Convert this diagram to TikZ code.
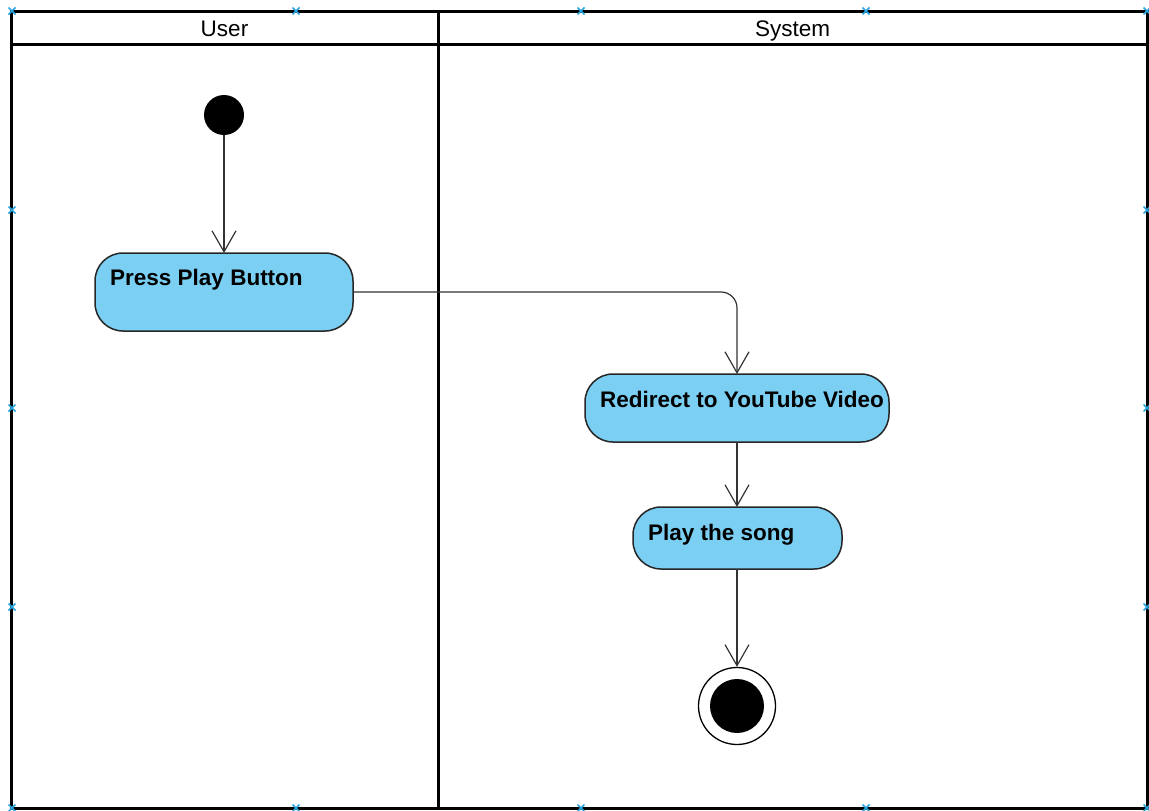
\documentclass[tikz,border=0pt]{standalone}
\usepackage{fontspec}
\setmainfont{Liberation Sans}
\usetikzlibrary{arrows.meta}
\definecolor{actfill}{HTML}{7ACFF3}
\definecolor{handle}{HTML}{2AA5DF}
\tikzset{
  lane/.style={line width=3pt, draw=black},
  action/.style={draw=black!85, line width=1.5pt, fill=actfill, rounded corners=28pt},
  actlabel/.style={anchor=base west, font=\fontsize{22.5}{26}\selectfont\bfseries, inner sep=0pt},
  lanelabel/.style={anchor=base, font=\fontsize{22.5}{26}\selectfont, inner sep=0pt},
  flow/.style={draw=black!80, line width=1.2pt, -{Straight Barb[length=21pt,width=24pt,line width=1.2pt]}},
  handlemark/.style={draw=handle, line width=1.5pt}
}
\begin{document}
\begin{tikzpicture}[x=1pt,y=-1pt]
\useasboundingbox (0,0) rectangle (1149,811);

% swimlane frame
\draw[lane] (11,11) rectangle (1147,808);
\draw[lane] (11,44) -- (1147,44);
\draw[lane] (438,11) -- (438,808);
\node[lanelabel] (userlane) at (224.5,36) {User};
\node[lanelabel] (syslane) at (792.5,36) {System};

% initial node
\node[circle, fill=black, minimum size=40pt, inner sep=0pt] (start) at (224,115) {};

% actions
\path[action] (95,253) rectangle (353,331);
\coordinate (pressTop) at (224,253);
\coordinate (pressRight) at (353,292);
\node[actlabel] (pressText) at (110,285) {Press Play Button};

\path[action] (585,374) rectangle (889,442);
\coordinate (redirTop) at (737,374);
\coordinate (redirBottom) at (737,442);
\node[actlabel] (redirText) at (600,407) {Redirect to YouTube Video};

\path[action] (633,507) rectangle (842,569);
\coordinate (playTop) at (737,507);
\coordinate (playBottom) at (737,569);
\node[actlabel] (playText) at (648,540) {Play the song};

% final node
\node[circle, draw=black, line width=1.3pt, fill=white, minimum size=77pt, inner sep=0pt] (final) at (737,706) {};
\node[circle, fill=black, minimum size=54pt, inner sep=0pt] (finalDot) at (737,706) {};

% control flows
\draw[flow] (start.south) -- (pressTop);
\draw[flow, rounded corners=16pt] (pressRight) -- (737,292) -- (redirTop);
\draw[flow] (redirBottom) -- (playTop);
\draw[flow] (playBottom) -- (final.north);

% selection handles
\foreach \hx/\hy in {12/11, 296/11, 581/11, 866/11, 1147/11,
                     12/210, 12/408, 12/607, 12/808,
                     1147/210, 1147/408, 1147/607, 1147/808,
                     296/808, 581/808, 866/808}{
  \draw[handlemark] (\hx-3.5,\hy-3.5) -- (\hx+3.5,\hy+3.5) (\hx-3.5,\hy+3.5) -- (\hx+3.5,\hy-3.5);
}
\end{tikzpicture}
\end{document}
